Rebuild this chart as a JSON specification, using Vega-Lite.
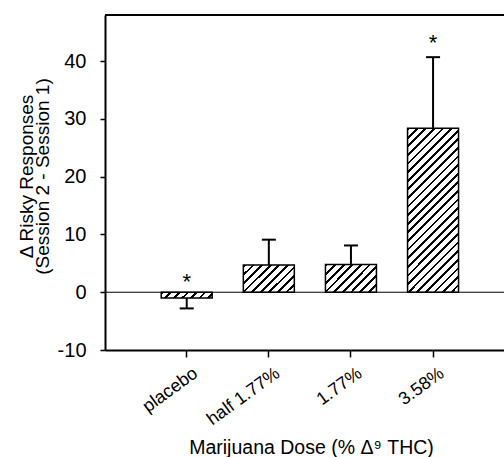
{
  "$schema": "https://vega.github.io/schema/vega-lite/v6.json",
  "width": 399,
  "height": 335,
  "autosize": "none",
  "padding": {"left": 105, "top": 15, "right": 0, "bottom": 107},
  "background": "white",
  "config": {
    "view": {"stroke": null},
    "font": "Liberation Sans",
    "axis": {
      "domainColor": "black",
      "domainWidth": 2,
      "tickColor": "black",
      "tickWidth": 1.5,
      "labelColor": "black",
      "titleColor": "black",
      "labelFont": "Liberation Sans",
      "titleFont": "Liberation Sans",
      "titleFontWeight": "normal",
      "grid": false
    }
  },
  "data": {
    "values": [
      {"dose": "placebo", "mean": -1.0, "err": -2.8, "star_y": 1.8},
      {"dose": "half 1.77%", "mean": 4.7, "err": 9.1, "star_y": null},
      {"dose": "1.77%", "mean": 4.8, "err": 8.1, "star_y": null},
      {"dose": "3.58%", "mean": 28.4, "err": 40.7, "star_y": 43.1}
    ]
  },
  "layer": [
    {
      "mark": {"type": "bar", "stroke": "black", "strokeWidth": 1.5},
      "encoding": {
        "x": {
          "field": "dose",
          "type": "nominal",
          "sort": null,
          "scale": {"paddingInner": 0.379, "paddingOuter": 0.619, "align": 0.553},
          "axis": {
            "title": "Marijuana Dose (% Δ⁹ THC)",
            "titleFontSize": 19.5,
            "titleX": 206,
            "titleY": 103,
            "titleAlign": "center",
            "titleBaseline": "alphabetic",
            "labelAngle": -36,
            "labelAlign": "right",
            "labelBaseline": "top",
            "labelOffset": 4,
            "labelPadding": 7,
            "labelFontSize": 18,
            "tickSize": 7
          }
        },
        "y": {
          "field": "mean",
          "type": "quantitative",
          "scale": {"domain": [-10, 48], "nice": false, "zero": false},
          "axis": {
            "values": [-10, 0, 10, 20, 30, 40],
            "labelExpr": "replace(datum.label, '−', '-')",
            "title": ["Δ Risky Responses", "(Session 2 - Session 1)"],
            "titleFontSize": 19,
            "titleLineHeight": 16.5,
            "titleAngle": -90,
            "titleBaseline": "alphabetic",
            "titleAlign": "center",
            "titleX": -73,
            "titleY": 161,
            "labelFontSize": 20,
            "tickSize": 5,
            "labelPadding": 14
          }
        },
        "fill": {
          "condition": [
            {
              "test": "datum.dose === 'placebo'",
              "value": {
                "gradient": "linear", "x1": 0, "y1": 0, "x2": 1.0995, "y2": 0.125,
                "stops": [
                  {"offset": 0, "color": "#000"}, {"offset": 0.05, "color": "#000"}, {"offset": 0.05, "color": "#fff"}, {"offset": 0.15, "color": "#fff"},
                  {"offset": 0.15, "color": "#000"}, {"offset": 0.2, "color": "#000"}, {"offset": 0.2, "color": "#fff"}, {"offset": 0.3, "color": "#fff"},
                  {"offset": 0.3, "color": "#000"}, {"offset": 0.35, "color": "#000"}, {"offset": 0.35, "color": "#fff"}, {"offset": 0.45, "color": "#fff"},
                  {"offset": 0.45, "color": "#000"}, {"offset": 0.5, "color": "#000"}, {"offset": 0.5, "color": "#fff"}, {"offset": 0.6, "color": "#fff"},
                  {"offset": 0.6, "color": "#000"}, {"offset": 0.65, "color": "#000"}, {"offset": 0.65, "color": "#fff"}, {"offset": 0.75, "color": "#fff"},
                  {"offset": 0.75, "color": "#000"}, {"offset": 0.8, "color": "#000"}, {"offset": 0.8, "color": "#fff"}, {"offset": 0.9, "color": "#fff"},
                  {"offset": 0.9, "color": "#000"}, {"offset": 0.95, "color": "#000"}, {"offset": 0.95, "color": "#fff"}, {"offset": 1, "color": "#fff"}
                ]
              }
            },
            {
              "test": "datum.dose === '3.58%'",
              "value": {
                "gradient": "linear", "x1": 0, "y1": 0, "x2": 0.3717, "y2": 1.1954,
                "stops": [
                  {"offset": 0, "color": "#000"}, {"offset": 0.013, "color": "#000"}, {"offset": 0.013, "color": "#fff"}, {"offset": 0.04, "color": "#fff"},
                  {"offset": 0.04, "color": "#000"}, {"offset": 0.053, "color": "#000"}, {"offset": 0.053, "color": "#fff"}, {"offset": 0.08, "color": "#fff"},
                  {"offset": 0.08, "color": "#000"}, {"offset": 0.093, "color": "#000"}, {"offset": 0.093, "color": "#fff"}, {"offset": 0.12, "color": "#fff"},
                  {"offset": 0.12, "color": "#000"}, {"offset": 0.133, "color": "#000"}, {"offset": 0.133, "color": "#fff"}, {"offset": 0.16, "color": "#fff"},
                  {"offset": 0.16, "color": "#000"}, {"offset": 0.173, "color": "#000"}, {"offset": 0.173, "color": "#fff"}, {"offset": 0.2, "color": "#fff"},
                  {"offset": 0.2, "color": "#000"}, {"offset": 0.213, "color": "#000"}, {"offset": 0.213, "color": "#fff"}, {"offset": 0.24, "color": "#fff"},
                  {"offset": 0.24, "color": "#000"}, {"offset": 0.253, "color": "#000"}, {"offset": 0.253, "color": "#fff"}, {"offset": 0.28, "color": "#fff"},
                  {"offset": 0.28, "color": "#000"}, {"offset": 0.293, "color": "#000"}, {"offset": 0.293, "color": "#fff"}, {"offset": 0.32, "color": "#fff"},
                  {"offset": 0.32, "color": "#000"}, {"offset": 0.333, "color": "#000"}, {"offset": 0.333, "color": "#fff"}, {"offset": 0.36, "color": "#fff"},
                  {"offset": 0.36, "color": "#000"}, {"offset": 0.373, "color": "#000"}, {"offset": 0.373, "color": "#fff"}, {"offset": 0.4, "color": "#fff"},
                  {"offset": 0.4, "color": "#000"}, {"offset": 0.413, "color": "#000"}, {"offset": 0.413, "color": "#fff"}, {"offset": 0.44, "color": "#fff"},
                  {"offset": 0.44, "color": "#000"}, {"offset": 0.453, "color": "#000"}, {"offset": 0.453, "color": "#fff"}, {"offset": 0.48, "color": "#fff"},
                  {"offset": 0.48, "color": "#000"}, {"offset": 0.493, "color": "#000"}, {"offset": 0.493, "color": "#fff"}, {"offset": 0.52, "color": "#fff"},
                  {"offset": 0.52, "color": "#000"}, {"offset": 0.533, "color": "#000"}, {"offset": 0.533, "color": "#fff"}, {"offset": 0.56, "color": "#fff"},
                  {"offset": 0.56, "color": "#000"}, {"offset": 0.573, "color": "#000"}, {"offset": 0.573, "color": "#fff"}, {"offset": 0.6, "color": "#fff"},
                  {"offset": 0.6, "color": "#000"}, {"offset": 0.613, "color": "#000"}, {"offset": 0.613, "color": "#fff"}, {"offset": 0.64, "color": "#fff"},
                  {"offset": 0.64, "color": "#000"}, {"offset": 0.653, "color": "#000"}, {"offset": 0.653, "color": "#fff"}, {"offset": 0.68, "color": "#fff"},
                  {"offset": 0.68, "color": "#000"}, {"offset": 0.693, "color": "#000"}, {"offset": 0.693, "color": "#fff"}, {"offset": 0.72, "color": "#fff"},
                  {"offset": 0.72, "color": "#000"}, {"offset": 0.733, "color": "#000"}, {"offset": 0.733, "color": "#fff"}, {"offset": 0.76, "color": "#fff"},
                  {"offset": 0.76, "color": "#000"}, {"offset": 0.773, "color": "#000"}, {"offset": 0.773, "color": "#fff"}, {"offset": 0.8, "color": "#fff"},
                  {"offset": 0.8, "color": "#000"}, {"offset": 0.813, "color": "#000"}, {"offset": 0.813, "color": "#fff"}, {"offset": 0.84, "color": "#fff"},
                  {"offset": 0.84, "color": "#000"}, {"offset": 0.853, "color": "#000"}, {"offset": 0.853, "color": "#fff"}, {"offset": 0.88, "color": "#fff"},
                  {"offset": 0.88, "color": "#000"}, {"offset": 0.893, "color": "#000"}, {"offset": 0.893, "color": "#fff"}, {"offset": 0.92, "color": "#fff"},
                  {"offset": 0.92, "color": "#000"}, {"offset": 0.933, "color": "#000"}, {"offset": 0.933, "color": "#fff"}, {"offset": 0.96, "color": "#fff"},
                  {"offset": 0.96, "color": "#000"}, {"offset": 0.973, "color": "#000"}, {"offset": 0.973, "color": "#fff"}, {"offset": 1, "color": "#fff"}
                ]
              }
            }
          ],
          "value": {
            "gradient": "linear", "x1": 0, "y1": 0, "x2": 1.1929, "y2": 0.6409,
            "stops": [
              {"offset": 0, "color": "#000"}, {"offset": 0.036, "color": "#000"}, {"offset": 0.036, "color": "#fff"}, {"offset": 0.11, "color": "#fff"},
              {"offset": 0.11, "color": "#000"}, {"offset": 0.146, "color": "#000"}, {"offset": 0.146, "color": "#fff"}, {"offset": 0.22, "color": "#fff"},
              {"offset": 0.22, "color": "#000"}, {"offset": 0.256, "color": "#000"}, {"offset": 0.256, "color": "#fff"}, {"offset": 0.33, "color": "#fff"},
              {"offset": 0.33, "color": "#000"}, {"offset": 0.366, "color": "#000"}, {"offset": 0.366, "color": "#fff"}, {"offset": 0.44, "color": "#fff"},
              {"offset": 0.44, "color": "#000"}, {"offset": 0.476, "color": "#000"}, {"offset": 0.476, "color": "#fff"}, {"offset": 0.55, "color": "#fff"},
              {"offset": 0.55, "color": "#000"}, {"offset": 0.586, "color": "#000"}, {"offset": 0.586, "color": "#fff"}, {"offset": 0.66, "color": "#fff"},
              {"offset": 0.66, "color": "#000"}, {"offset": 0.696, "color": "#000"}, {"offset": 0.696, "color": "#fff"}, {"offset": 0.77, "color": "#fff"},
              {"offset": 0.77, "color": "#000"}, {"offset": 0.806, "color": "#000"}, {"offset": 0.806, "color": "#fff"}, {"offset": 0.88, "color": "#fff"},
              {"offset": 0.88, "color": "#000"}, {"offset": 0.916, "color": "#000"}, {"offset": 0.916, "color": "#fff"}, {"offset": 0.99, "color": "#fff"},
              {"offset": 0.99, "color": "#000"}, {"offset": 1, "color": "#000"}
            ]
          }
        }
      }
    },
    {
      "data": {"values": [{}]},
      "mark": {"type": "rule", "color": "black", "strokeWidth": 1},
      "encoding": {"y": {"datum": 0}}
    },
    {
      "data": {"values": [{}]},
      "mark": {"type": "rule", "color": "black", "strokeWidth": 2},
      "encoding": {"y": {"datum": 48}}
    },
    {
      "mark": {"type": "rule", "color": "black", "strokeWidth": 2},
      "encoding": {
        "x": {"field": "dose", "type": "nominal", "sort": null},
        "y": {"field": "mean", "type": "quantitative"},
        "y2": {"field": "err"}
      }
    },
    {
      "mark": {"type": "tick", "color": "black", "size": 14, "thickness": 2, "opacity": 1},
      "encoding": {
        "x": {"field": "dose", "type": "nominal", "sort": null},
        "y": {"field": "err", "type": "quantitative"}
      }
    },
    {
      "transform": [{"filter": "datum.star_y != null"}],
      "mark": {"type": "text", "text": "*", "fontSize": 22, "align": "center", "baseline": "middle", "color": "black"},
      "encoding": {
        "x": {"field": "dose", "type": "nominal", "sort": null},
        "y": {"field": "star_y", "type": "quantitative"}
      }
    }
  ]
}
